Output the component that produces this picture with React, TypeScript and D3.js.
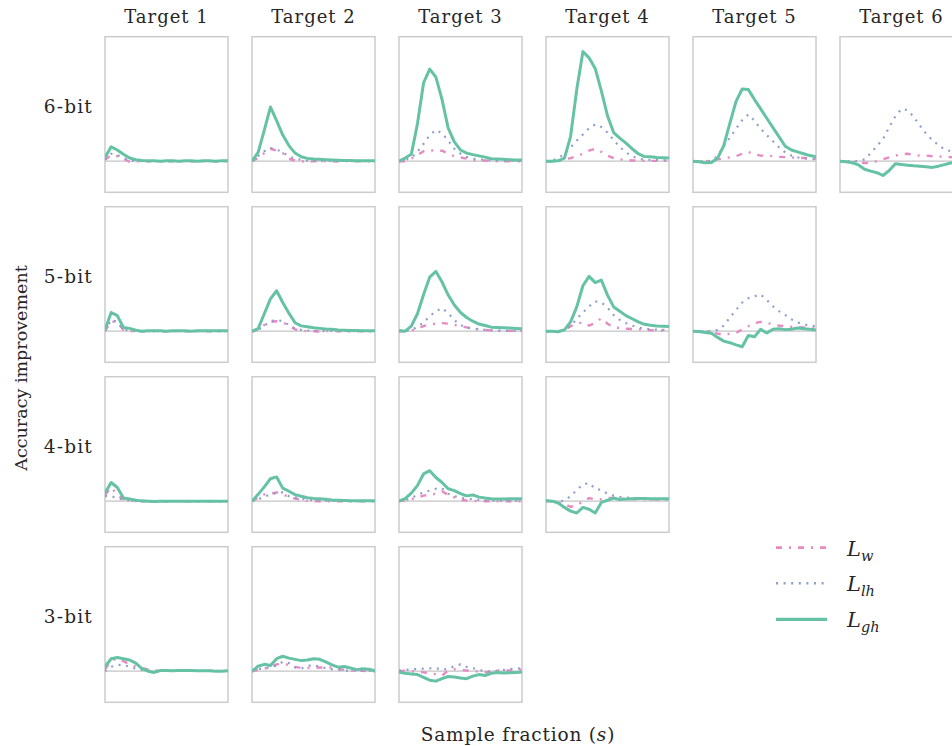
import React from "react";
import * as d3 from "d3";

const TARGETS = ["Target 1", "Target 2", "Target 3", "Target 4", "Target 5", "Target 6"];
const BITS = ["6-bit", "5-bit", "4-bit", "3-bit"];
const SAMPLE_FRACTION = [0, 0.05, 0.1, 0.15, 0.2, 0.25, 0.3, 0.35, 0.4, 0.45, 0.5, 0.55, 0.6, 0.65, 0.7, 0.75, 0.8, 0.85, 0.9, 0.95, 1];

// accuracy improvement (%), one list per target, for each bit width
const GH_6BIT = [
  [0.6, 2.3, 1.8, 1.1, 0.5, 0.25, 0.1, 0.05, 0.05, 0, 0.05, 0.05, 0, 0.05, 0.05, 0, 0.05, 0.05, 0, 0.05, 0.05],
  [0, 1.4, 5.0, 8.7, 6.5, 4.2, 2.5, 1.3, 0.7, 0.45, 0.35, 0.3, 0.25, 0.2, 0.15, 0.1, 0.1, 0.05, 0.05, 0.05, 0.05],
  [0, 0.5, 1.1, 6.0, 12.6, 14.8, 13.5, 9.9, 5.3, 3.1, 1.8, 1.3, 1.05, 0.85, 0.65, 0.4, 0.35, 0.3, 0.25, 0.2, 0.2],
  [0, 0, 0.05, 0.5, 4.0, 11.5, 17.6, 16.6, 14.9, 11.3, 7.3, 4.6, 3.7, 2.9, 2.0, 1.2, 0.75, 0.7, 0.6, 0.55, 0.5],
  [0, -0.1, -0.25, -0.2, 0.5, 2.5, 6.1, 9.6, 11.6, 11.5, 9.9, 8.4, 6.9, 5.4, 3.9, 2.4, 1.8, 1.5, 1.2, 0.9, 0.7],
  [0, -0.1, -0.25, -0.6, -1.3, -1.6, -1.85, -2.3, -1.5, -0.4, -0.55, -0.65, -0.75, -0.8, -0.9, -1.0, -0.8, -0.55, -0.3, -0.1, 0],
];
const LH_6BIT = [
  [0.3, 1.2, 1.0, 0.5, 0.1, 0, 0, 0, 0, 0, 0, 0, 0, 0, 0, 0, 0, 0, 0, 0, 0],
  [0, 0.8, 1.6, 2.1, 1.9, 1.4, 0.8, 0.4, 0.2, 0.1, 0.05, 0.05, 0, 0.05, 0, 0.05, 0, 0.05, 0, 0.05, 0],
  [0, 0.2, 0.5, 1.5, 2.8, 4.2, 5.0, 4.5, 3.3, 2.0, 1.2, 0.7, 0.4, 0.3, 0.2, 0.15, 0.1, 0.05, 0.05, 0.05, 0.05],
  [0, 0.1, 0.5, 1.2, 2.2, 3.3, 4.3, 5.3, 5.9, 5.5, 4.6, 3.4, 2.3, 1.4, 0.8, 0.4, 0.25, 0.2, 0.2, 0.15, 0.15],
  [0, 0, -0.1, 0.1, 0.8, 2.4, 3.8, 5.2, 6.6, 7.5, 6.5, 5.2, 4.2, 3.2, 2.2, 1.4, 0.9, 0.6, 0.45, 0.35, 0.3],
  [0, 0, 0, 0, 0.3, 1.3, 2.4, 3.6, 5.5, 7.2, 8.4, 8.2, 7.1, 5.7, 4.4, 3.4, 2.6, 1.9, 1.6, 1.3, 1.0],
];
const W_6BIT = [
  [0.2, 1.0, 0.8, 0.4, -0.1, 0, 0, 0, 0, 0, 0, 0, 0, 0, 0, 0, 0, 0, 0, 0, 0],
  [0, 0.5, 1.3, 2.0, 1.7, 1.3, 0.4, 0.1, 0, -0.1, 0, 0.05, 0, -0.05, 0, 0.05, 0, 0, 0.05, 0, 0],
  [0, 0, 0.4, 1.0, 1.6, 1.8, 1.6, 1.7, 1.2, 0.8, 0.6, 0.4, 0.2, 0.1, 0.1, 0.05, 0, 0, 0, 0, 0],
  [0, 0, 0.1, 0.3, 0.5, 0.8, 1.2, 1.7, 2.0, 1.5, 0.9, 0.5, 0.3, 0.2, 0.1, 0.1, 0.05, 0.05, 0.05, 0.05, 0.05],
  [0, 0, 0, 0.1, 0.3, 0.5, 0.6, 0.8, 1.2, 1.5, 1.1, 0.9, 0.9, 0.8, 0.7, 0.65, 0.6, 0.55, 0.5, 0.45, 0.4],
  [0, 0, -0.1, -0.2, -0.3, -0.2, 0, 0.3, 0.6, 0.9, 1.1, 1.2, 1.0, 0.9, 0.9, 0.8, 0.75, 0.7, 0.65, 0.6, 0.6],
];

const GH_5BIT = [
  [0.2, 3.0, 2.5, 0.6, 0.45, 0.15, 0, 0.05, 0.05, 0.05, 0, 0.05, 0.05, 0.05, 0, 0.05, 0.05, 0.05, 0.05, 0.05, 0.05],
  [0, 0.4, 2.8, 5.2, 6.5, 4.6, 2.9, 1.35, 0.85, 0.7, 0.55, 0.45, 0.35, 0.3, 0.2, 0.15, 0.1, 0.1, 0.05, 0.05, 0.05],
  [0.1, 0, 0.8, 2.8, 5.9, 8.7, 9.6, 7.9, 5.8, 4.2, 3.0, 2.2, 1.6, 1.15, 0.9, 0.65, 0.6, 0.55, 0.5, 0.45, 0.4],
  [0, 0, -0.1, 0.2, 1.5, 3.9, 7.3, 8.8, 7.8, 8.2, 5.8, 3.9, 3.2, 2.5, 2.0, 1.5, 1.1, 0.95, 0.85, 0.8, 0.75],
  [0, -0.05, -0.2, -0.35, -1.0, -1.6, -1.85, -2.2, -2.5, -0.7, -0.9, 0.3, -0.3, 0.3, 0.4, 0.25, 0.3, 0.5, 0.4, 0.3, 0.2],
];
const LH_5BIT = [
  [0.1, 1.8, 1.5, 0.3, 0.1, 0, 0, 0, 0, 0, 0, 0, 0, 0, 0, 0, 0, 0, 0, 0, 0],
  [0, 0.2, 0.9, 1.6, 1.8, 1.6, 1.0, 0.4, 0.2, 0.1, 0.05, 0.05, 0, 0.05, 0, 0.05, 0, 0, 0.05, 0, 0],
  [0, 0, 0.2, 0.7, 1.4, 2.4, 3.2, 3.7, 2.9, 1.8, 1.0, 0.6, 0.4, 0.3, 0.2, 0.15, 0.1, 0.05, 0.05, 0.05, 0.05],
  [0, 0, 0, 0.3, 0.8, 2.0, 3.0, 4.0, 4.8, 4.6, 3.8, 2.6, 1.8, 1.3, 0.9, 0.6, 0.4, 0.3, 0.25, 0.2, 0.2],
  [0, 0, 0, 0, 0.2, 0.9, 2.2, 3.4, 4.6, 5.3, 5.6, 5.9, 5.0, 4.0, 3.2, 2.6, 1.9, 1.4, 1.1, 0.9, 0.8],
];
const W_5BIT = [
  [0, 1.6, 1.4, 0.2, 0, 0, 0, 0, 0, 0, 0, 0, 0, 0, 0, 0, 0, 0, 0, 0, 0],
  [-0.1, 0.3, 1.0, 1.5, 1.6, 1.4, 0.9, 0.3, 0.1, 0, 0, -0.05, 0, 0.05, 0, 0, -0.05, 0, 0, 0, 0],
  [0, 0, 0.1, 0.4, 0.8, 1.1, 1.2, 1.3, 1.2, 1.0, 0.8, 0.6, 0.4, 0.3, 0.2, 0.1, 0.05, 0.05, 0.05, 0.05, 0.05],
  [0, 0, 0, 0.2, 0.8, 1.2, 1.4, 0.9, 1.3, 2.1, 1.2, 0.6, 0.5, 0.4, 0.35, 0.3, 0.2, 0.15, 0.1, 0.1, 0.05],
  [0, 0, 0, -0.2, -0.4, -0.6, -0.4, -0.3, 0.3, 0.8, 1.3, 1.5, 1.4, 1.0, 0.9, 0.8, 0.7, 0.65, 0.6, 0.5, 0.4],
];

const GH_4BIT = [
  [1.3, 3.0, 2.2, 0.5, 0.35, 0.15, 0.05, 0, -0.05, 0, 0, 0, 0, 0, 0, 0, 0, 0, 0, 0, 0],
  [0, 1.1, 2.3, 3.6, 3.9, 2.1, 1.6, 1.05, 0.8, 0.55, 0.45, 0.4, 0.3, 0.2, 0.15, 0.1, 0.05, 0.05, 0.05, 0.05, 0.05],
  [0, 0.4, 1.3, 2.5, 4.4, 4.9, 3.8, 3.0, 2.0, 1.7, 1.2, 0.85, 1.0, 0.65, 0.5, 0.4, 0.35, 0.35, 0.4, 0.4, 0.4],
  [0.1, 0, -0.3, -1.0, -1.6, -1.9, -1.0, -1.3, -1.9, -0.2, 0.15, 0.5, 0.25, 0.35, 0.4, 0.45, 0.45, 0.4, 0.4, 0.4, 0.4],
];
const LH_4BIT = [
  [0.8, 0.8, 0.5, 0.2, 0.1, 0, 0, 0, 0, 0, 0, 0, 0, 0, 0, 0, 0, 0, 0, 0, 0],
  [0, 0.3, 0.7, 1.1, 1.3, 1.4, 0.8, 0.6, 0.4, 0.25, 0.15, 0.1, 0.05, 0.05, 0.05, 0.05, 0, 0, 0, 0, 0],
  [0, 0.1, 0.5, 1.0, 1.4, 1.7, 2.0, 2.1, 1.2, 0.8, 0.6, 0.4, 0.3, 0.2, 0.15, 0.1, 0.05, 0.05, 0.05, 0.05, 0.05],
  [0, 0, -0.1, 0.1, 0.8, 1.8, 2.7, 2.9, 2.0, 1.8, 1.2, 0.9, 0.7, 0.6, 0.5, 0.4, 0.35, 0.3, 0.3, 0.3, 0.3],
];
const W_4BIT = [
  [1.0, 2.2, 1.0, 0.3, 0.1, 0, 0, 0, 0, 0, 0, 0, 0, 0, 0, 0, 0, 0, 0, 0, 0],
  [0, 0.5, 1.1, 1.2, 1.4, 1.1, 0.7, 0.4, 0.2, 0.05, 0, 0, 0, 0, 0, 0, 0, 0, 0, 0, 0],
  [0, 0.1, 0.3, 0.6, 0.9, 1.0, 1.2, 1.6, 1.0, 0.6, 0.2, 0.1, 0.05, 0, 0, 0, 0, 0, 0, 0, 0],
  [0, 0, -0.2, -0.5, -0.9, -0.7, 0, 0.5, 0.3, 0.3, 0.5, 0.5, 0.4, 0.4, 0.35, 0.3, 0.3, 0.3, 0.3, 0.3, 0.3],
];

const GH_3BIT = [
  [0.7, 2.0, 2.2, 2.0, 1.8, 1.3, 0.4, 0, -0.2, 0.1, 0.1, 0.05, 0.1, 0.1, 0.1, 0.05, 0.05, 0.05, 0, 0, 0.05],
  [0, 0.8, 1.1, 0.9, 2.0, 2.4, 2.1, 1.9, 1.7, 1.8, 2.0, 1.9, 1.5, 1.0, 0.65, 0.75, 0.5, 0.25, 0.4, 0.3, 0.05],
  [-0.15, -0.35, -0.45, -0.55, -1.0, -1.45, -1.6, -1.2, -0.85, -0.95, -1.1, -1.2, -0.8, -0.55, -0.7, -0.35, -0.2, -0.3, -0.25, -0.2, -0.15],
];
const LH_3BIT = [
  [0, 0.7, 1.0, 1.0, 0.7, 0.4, 0.2, 0.1, 0.05, 0.05, 0.05, 0.05, 0.05, 0.05, 0.05, 0.05, 0.05, 0.05, 0.05, 0.05, 0.05],
  [-0.1, 0.3, 0.5, 0.6, 0.9, 1.5, 1.3, 0.6, 0.4, 0.8, 1.0, 0.7, 0.5, 0.3, 0.2, 0.1, 0.1, 0.05, 0.1, 0.05, 0],
  [0.1, 0.2, 0.3, 0.35, 0.4, 0.45, 0.5, 0.2, 0.4, 0.8, 1.1, 0.7, 0.5, 0.2, 0, -0.1, 0.1, 0.2, 0.3, 0.5, 0.4],
];
const W_3BIT = [
  [0.3, 1.7, 2.0, 1.6, 1.1, 0.7, 0.5, 0.3, 0.1, 0.05, 0.05, 0.05, 0.05, 0.05, 0.05, 0.05, 0.05, 0.05, 0.05, 0.05, 0.05],
  [0, 0.2, 0.4, 0.7, 1.1, 1.2, 1.0, 0.7, 0.5, 0.5, 0.5, 0.6, 0.6, 0.6, 0.4, 0.2, 0.1, 0.05, 0.05, 0, 0],
  [0, 0.1, 0, -0.1, -0.2, -0.3, -0.5, -0.7, 0.1, 0.3, 0.2, 0.1, 0.1, -0.1, -0.2, 0, 0.1, 0.1, 0.1, 0.2, 0.3],
];

const GH = [GH_6BIT, GH_5BIT, GH_4BIT, GH_3BIT];
const LH = [LH_6BIT, LH_5BIT, LH_4BIT, LH_3BIT];
const LW = [W_6BIT, W_5BIT, W_4BIT, W_3BIT];

const W = 952, H = 746;
const panelW = 123, panelH = 155.6;
const colX0 = 105, colStep = 147;
const rowY0 = 36.7, rowStep = 170;

const C_W = "#e78ac3", C_LH = "#8da0cb", C_GH = "#66c2a5";
const FONT = "'DejaVu Serif', serif";
const TXT = "#262626";

const styles = [
  { key: "w", color: C_W, width: 2.4, dash: "6 7 2 7" },
  { key: "lh", color: C_LH, width: 2.2, dash: "2 5.6" },
  { key: "gh", color: C_GH, width: 3, dash: null },
];

export default function App() {
  const x = d3.scaleLinear().domain([0, 1]).range([0, panelW]);
  const y = d3.scaleLinear().domain([-5, 20]).range([panelH, 0]);
  const line = d3.line<number>()
    .x((_, i) => x(SAMPLE_FRACTION[i]))
    .y(d => y(d));

  const panels: JSX.Element[] = [];
  BITS.forEach((bit, r) => {
    const n = TARGETS.length - r;
    for (let c = 0; c < n; c++) {
      const px = colX0 + c * colStep;
      const py = rowY0 + r * rowStep;
      const id = `clip-${r}-${c}`;
      const series = [LW[r][c], LH[r][c], GH[r][c]];
      panels.push(
        <g key={id} transform={`translate(${px},${py})`}>
          <clipPath id={id}>
            <rect x={0} y={0} width={panelW} height={panelH} />
          </clipPath>
          <rect x={0} y={0} width={panelW} height={panelH} fill="#fff" stroke="#cccccc" strokeWidth={1.5} />
          <line x1={0} x2={panelW} y1={y(0)} y2={y(0)} stroke="#c4c4c4" strokeWidth={1.2} />
          <g clipPath={`url(#${id})`}>
            {series.map((vals, k) => (
              <path
                key={k}
                d={line(vals) || ""}
                fill="none"
                stroke={styles[k].color}
                strokeWidth={styles[k].width}
                strokeDasharray={styles[k].dash || undefined}
                strokeLinejoin="round"
              />
            ))}
          </g>
        </g>
      );
    }
  });

  const legendY = [547.7, 583.3, 619.3];
  const legendSub = ["w", "lh", "gh"];

  return (
    <svg width={W} height={H} style={{ position: "absolute", left: 0, top: 0, background: "#fff" }}>
      {TARGETS.map((t, c) => (
        <text key={t} x={colX0 + c * colStep + panelW / 2} y={23} textAnchor="middle"
          fontFamily={FONT} fontSize={18} letterSpacing={1} fill={TXT}>{t}</text>
      ))}
      {BITS.map((b, r) => (
        <text key={b} x={93} y={rowY0 + r * rowStep + panelH / 2 - 2} textAnchor="end"
          fontFamily={FONT} fontSize={18.5} letterSpacing={1.2} fill={TXT}>{b}</text>
      ))}
      <text transform={`translate(27,368) rotate(-90)`} textAnchor="middle"
        fontFamily={FONT} fontSize={17.5} fill={TXT}>Accuracy improvement</text>
      <text x={518} y={741} textAnchor="middle" fontFamily={FONT} fontSize={18.5} letterSpacing={0.8} fill={TXT}>
        Sample fraction (<tspan fontStyle="italic">s</tspan>)
      </text>
      {panels}
      {styles.map((s, k) => (
        <g key={s.key}>
          <line x1={776} x2={827} y1={legendY[k]} y2={legendY[k]} stroke={s.color}
            strokeWidth={s.width + 0.3} strokeDasharray={s.dash || undefined} />
          <text x={847} y={legendY[k] + 8} fontFamily={FONT} fontSize={21} fontStyle="italic" fill={TXT}>
            L<tspan fontSize={14.5} dy={5}>{legendSub[k]}</tspan>
          </text>
        </g>
      ))}
    </svg>
  );
}
